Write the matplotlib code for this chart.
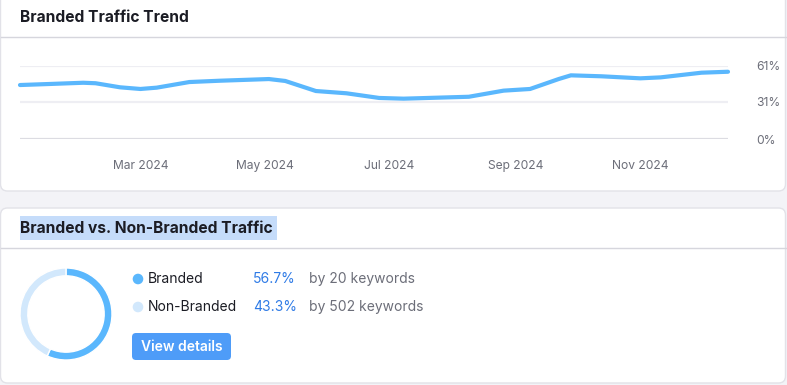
import matplotlib.pyplot as plt
import matplotlib.dates as mdates
from matplotlib.patches import FancyBboxPatch, Rectangle, Circle
import pandas as pd

plt.rcParams['font.family'] = ['Inter', 'DejaVu Sans']

# branded traffic share over time (%)
dates = pd.to_datetime([
    '2024-01-02', '2024-01-17', '2024-02-02', '2024-02-08', '2024-02-20',
    '2024-03-01', '2024-03-09', '2024-03-25', '2024-04-09', '2024-05-03',
    '2024-05-11', '2024-05-26', '2024-06-10', '2024-06-26', '2024-07-08',
    '2024-08-09', '2024-08-26', '2024-09-08', '2024-09-22', '2024-09-28',
    '2024-10-13', '2024-11-01', '2024-11-11', '2024-12-01', '2024-12-14'])
branded_share = [45.1, 46.0, 47.0, 46.6, 43.2,
                 41.8, 42.9, 47.6, 48.7, 50.1,
                 48.5, 40.1, 38.2, 34.3, 33.7,
                 35.3, 40.4, 41.8, 50.1, 53.2,
                 52.4, 50.7, 51.5, 55.4, 56.2]
y_ticks = [0, 31, 61]

# donut split
segments = ['Branded', 'Non-Branded']
shares = [56.7, 43.3]
keywords = [20, 502]

W, H = 787, 385
BLUE = '#5ab7fd'
LIGHT = '#d2e8fc'
GREY_TXT = '#6c6e79'
DARK_TXT = '#1b1c24'

fig = plt.figure(figsize=(W / 100, H / 100), dpi=100)
fig.patch.set_facecolor('#f3f3f7')

# background canvas in pixel coordinates
bg = fig.add_axes([0, 0, 1, 1])
bg.set_xlim(0, W)
bg.set_ylim(H, 0)
bg.axis('off')

# cards
for top, bottom in [(-10, 191), (208, 383)]:
    bg.add_patch(FancyBboxPatch((0.5, top), 785, bottom - top,
                                boxstyle='round,pad=0,rounding_size=7',
                                facecolor='white', edgecolor='#e2e2e8', lw=1))
bg.plot([0.5, 785.5], [37, 37], color='#d6d6dd', lw=1)
bg.plot([0.5, 785.5], [248, 248], color='#d6d6dd', lw=1)

bg.text(20, 18, 'Branded Traffic Trend', fontsize=11.2, fontweight='bold',
        color=DARK_TXT, va='center', ha='left')

# selected title
bg.add_patch(Rectangle((20, 216), 257, 24, facecolor='#c5dcfa', edgecolor='none'))
bg.text(20, 228.5, 'Branded vs. Non-Branded Traffic', fontsize=11.2,
        fontweight='bold', color=DARK_TXT, va='center', ha='left')

# legend rows
for i, (name, share, kw) in enumerate(zip(segments, shares, keywords)):
    y = 279 + 28 * i
    bg.add_patch(Circle((138, y), 5.3, facecolor=[BLUE, LIGHT][i], edgecolor='none'))
    bg.text(148, y, name, fontsize=10, color=DARK_TXT, va='center', ha='left')
    bg.text(253, y, f'{share}%', fontsize=10, color='#2f7be6', va='center', ha='left')
    bg.text(309, y, f'by {kw} keywords', fontsize=10, color=GREY_TXT,
            va='center', ha='left')

# button
bg.add_patch(FancyBboxPatch((132, 333), 99, 27,
                            boxstyle='round,pad=0,rounding_size=4',
                            facecolor='#4e9cf8', edgecolor='none'))
bg.text(181.5, 347, 'View details', fontsize=10, fontweight='semibold',
        color='white', va='center', ha='center')

# trend line chart
ax = fig.add_axes([20 / W, 1 - 139 / H, (728 - 20) / W, (139 - 66) / H])
ax.set_facecolor('none')
ax.plot(dates, branded_share, color=BLUE, lw=3, solid_capstyle='round',
        clip_on=False, zorder=3)
ax.set_xlim(dates[0], dates[-1])
ax.set_ylim(0, 61)
for v in y_ticks:
    ax.axhline(v, color='#dcdce2' if v == 0 else '#eeeef3', lw=1.6, zorder=1)
ax.yaxis.tick_right()
ax.set_yticks(y_ticks)
ax.set_yticklabels([f'{v}%' for v in y_ticks])
ax.xaxis.set_major_locator(mdates.MonthLocator(bymonth=[3, 5, 7, 9, 11]))
ax.xaxis.set_major_formatter(mdates.DateFormatter('%b %Y'))
ax.tick_params(axis='x', length=0, pad=15, labelsize=8.7, labelcolor=GREY_TXT)
ax.tick_params(axis='y', length=0, pad=20, labelsize=8.7, labelcolor=GREY_TXT)
for s in ax.spines.values():
    s.set_visible(False)

# donut
dax = fig.add_axes([(66 - 46) / W, 1 - (314 + 46) / H, 92 / W, 92 / H])
dax.pie(shares, colors=[BLUE, LIGHT], startangle=90, counterclock=False,
        wedgeprops=dict(width=0.17, edgecolor='white', linewidth=1))
dax.set_xlim(-1, 1)
dax.set_ylim(-1, 1)
dax.set_aspect('equal')

fig.savefig('out.png', dpi=100, facecolor=fig.get_facecolor())
